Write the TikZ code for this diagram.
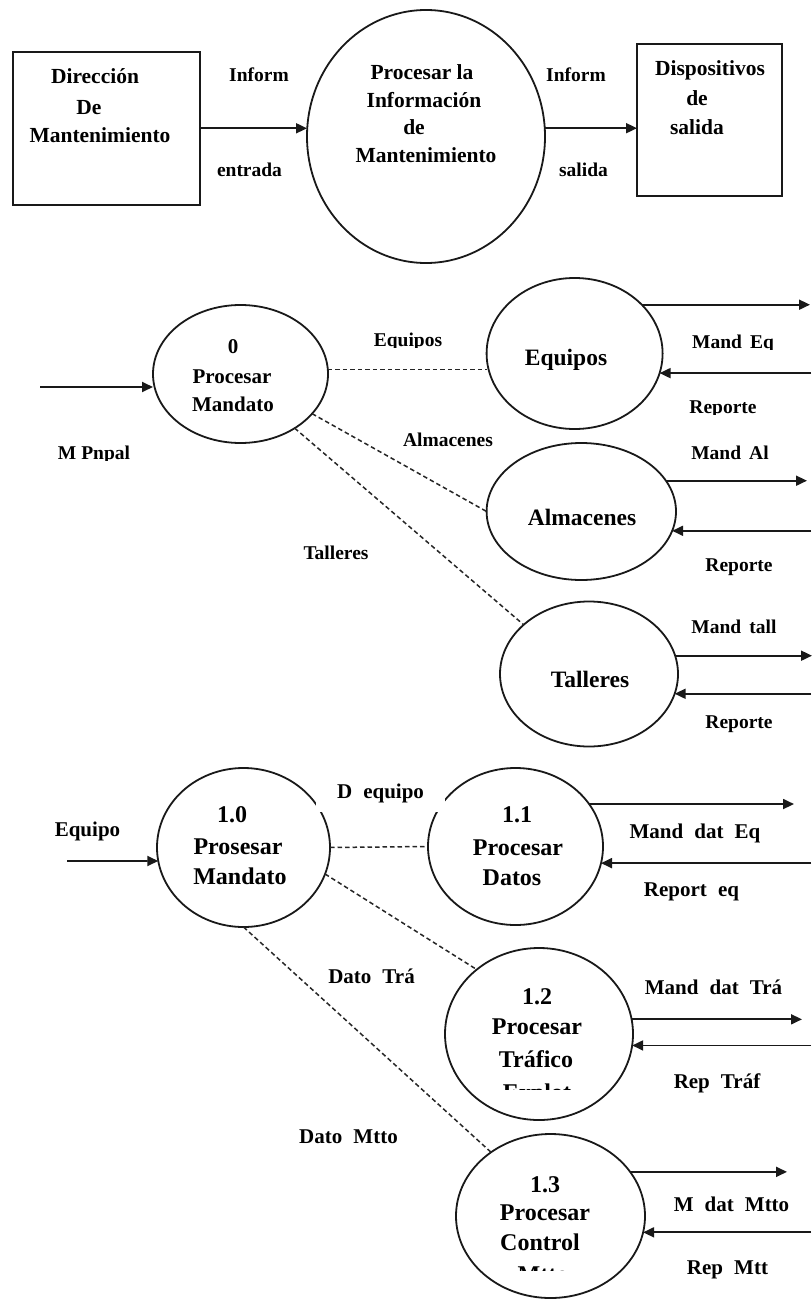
\documentclass[tikz,border=0pt]{standalone}
\usepackage{fontspec}
\setmainfont{Liberation Serif}
\usetikzlibrary{shapes.geometric,arrows.meta}
\begin{document}
\begin{tikzpicture}[x=1pt,y=-1pt,
  lw/.style={line width=1.8pt, draw=black!90},
  arr/.style={lw, -{Triangle[length=11pt,width=10pt]}},
  dsh/.style={line width=1.5pt, draw=black!85, dash pattern=on 4.5pt off 3pt},
  bub/.style={draw=black!90, ellipse, line width=1.8pt, inner sep=0pt, outer sep=0pt},
  box/.style={draw=black!90, rectangle, line width=2.2pt, inner sep=0pt, outer sep=0pt},
  la/.style={inner sep=0pt, text height=12.9pt, text depth=0pt, font=\fontsize{19.5}{23}\selectfont\bfseries},
  lb/.style={inner sep=0pt, text height=13.9pt, text depth=0pt, font=\fontsize{21}{25}\selectfont\bfseries},
  ta/.style={inner sep=0pt, text height=14.2pt, text depth=0pt, font=\fontsize{21.5}{25}\selectfont\bfseries},
  tb/.style={inner sep=0pt, text height=15.5pt, text depth=0pt, font=\fontsize{23.5}{28}\selectfont\bfseries},
  tc/.style={inner sep=0pt, text height=15.8pt, text depth=0pt, font=\fontsize{24}{28}\selectfont\bfseries},
]
\useasboundingbox (0,0) rectangle (811,1300);
\fill[white] (0,0) rectangle (811,1300);

% ---------------- top section ----------------
\node[box, minimum width=187.3pt, minimum height=153.3pt] (dir) at (106.3,128.3) {};
\node[ta] (dir1) at (95,76) {Dirección};
\node[ta] (dir2) at (89,107) {De};
\node[ta] (dir3) at (100,135) {Mantenimiento};

\node[bub, minimum width=238pt, minimum height=253pt] (pinfo) at (426,136.5) {};
\node[ta] (pi1) at (422,72) {Procesar la};
\node[ta] (pi2) at (424,100) {Información};
\node[ta] (pi3) at (414,127) {de};
\node[ta] (pi4) at (426,155) {Mantenimiento};

\node[box, minimum width=145pt, minimum height=152pt] (disp) at (709.5,120) {};
\node[ta] (di1) at (710,68) {Dispositivos};
\node[ta] (di2) at (697,98) {de};
\node[ta] (di3) at (697,127) {salida};

\draw[arr] (dir.east) -- (dir.east -| pinfo.west);
\draw[arr] (pinfo.4.1) -- (pinfo.4.1 -| disp.west);
\node[la] (lin1) at (259,75) {Inform};
\node[la] (lent) at (249.5,170) {entrada};
\node[la] (lin2) at (576,75) {Inform};
\node[la] (lsal) at (583.5,170) {salida};

% ---------------- middle section ----------------
\coordinate (E812) at (812,0);
\coordinate (E811) at (811,0);
\coordinate (E810) at (810,0);
\coordinate (E807) at (807,0);
\coordinate (E802) at (802,0);
\coordinate (E793) at (794,0);
\coordinate (E787) at (787,0);

\node[bub, minimum width=175pt, minimum height=138pt] (p0) at (240.5,374) {};
\node[lb] (p0a) at (233,347) {0};
\node[lb] (p0b) at (232,377) {Procesar};
\node[lb] (p0c) at (233,405) {Mandato};

\node[bub, minimum width=176pt, minimum height=151pt] (eq) at (574.6,353.5) {};
\node[tb] (eqt) at (566,358) {Equipos};
\node[bub, minimum width=189.4pt, minimum height=137pt] (alm) at (581.3,511.5) {};
\node[tb] (almt) at (582,518) {Almacenes};
\node[bub, minimum width=178pt, minimum height=145pt] (tal) at (589,674) {};
\node[tb] (talt) at (590,680) {Talleres};

\coordinate (in0) at (40,387);
\draw[arr] (in0) -- (in0 -| p0.west);
\begin{scope}
\clip (40,430) rectangle (150,460.5);
\node[la] (lppal) at (94,453) {M Pnpal};
\end{scope}

\draw[dsh] (p0.3.9) -- (p0.3.9 -| eq.west);
\draw[dsh] (p0.331.1) -- (alm.west);
\draw[dsh] (p0.315.7) -- (tal.143);
\begin{scope}
\clip (360,320) rectangle (460,347.5);
\node[la] (leq) at (408,340) {Equipos};
\end{scope}
\node[la] (lalm) at (448,440) {Almacenes};
\node[la] (ltal) at (336,553) {Talleres};

\draw[arr] (eq.36.7) -- (eq.36.7 -| E810);
\draw[arr] (eq.347.1 -| E811) -- (eq.347.1);
\begin{scope}
\clip (680,320) rectangle (790,349.5);
\node[la] (lmeq) at (733,342) {Mand\, Eq};
\end{scope}
\begin{scope}
\clip (680,385) rectangle (790,414.5);
\node[la] (lrep1) at (723,407) {Reporte};
\end{scope}

\draw[arr] (alm.20.5) -- (alm.20.5 -| E807);
\draw[arr] (alm.348.5 -| E811) -- (alm.348.5);
\node[la] (lmal) at (730,453) {Mand\, Al};
\node[la] (lrep2) at (739,565) {Reporte};

\draw[arr] (tal.12.5) -- (tal.12.5 -| E812);
\draw[arr] (tal.347.3 -| E811) -- (tal.347.3);
\node[la] (lmtal) at (734,627) {Mand\, tall};
\node[la] (lrep3) at (739,722) {Reporte};

% ---------------- bottom section ----------------
\node[bub, minimum width=173pt, minimum height=159pt] (p10) at (243.5,847.5) {};
\node[tc] (p10a) at (232,815) {1.0};
\node[tc] (p10b) at (238,847) {Prosesar};
\node[tc] (p10c) at (240,877) {Mandato};

\node[bub, minimum width=175pt, minimum height=157pt] (p11) at (515.5,846.5) {};
\node[tc] (p11a) at (517,815) {1.1};
\node[tc] (p11b) at (518,848) {Procesar};
\node[tc] (p11c) at (512,878) {Datos};

\node[bub, minimum width=188pt, minimum height=172pt] (p12) at (539,1034) {};
\node[tc] (p12a) at (537,997) {1.2};
\node[tc] (p12b) at (537,1027) {Procesar};
\node[tc] (p12c) at (536,1060) {Tráfico};
\begin{scope}
\clip (480,1070) rectangle (600,1089);
\node[tc] (p12d) at (537,1093) {Explot};
\end{scope}

\node[bub, minimum width=189pt, minimum height=164pt] (p13) at (550.5,1216) {};
\node[tc] (p13a) at (545,1185) {1.3};
\node[tc] (p13b) at (545,1213) {Procesar};
\node[tc] (p13c) at (540,1243) {Control};
\begin{scope}
\clip (490,1255) rectangle (600,1270.5);
\node[tc] (p13d) at (543,1275) {Mtto};
\end{scope}

\coordinate (in10) at (67,861);
\draw[arr] (in10) -- (p10.189);
\node[lb] (lequipo) at (87.5,830) {Equipo};

\draw[dsh] (p10.east) -- (p11.west);
\draw[dsh] (p10.342.6) -- (p12.134.2);
\draw[dsh] (p10.south) -- (p13.133.5);

\node[lb, fill=white, minimum width=129pt, minimum height=40pt] (ldeq) at (380.5,792) {D\; equipo\hspace{18pt}};
\node[lb] (ldtra) at (371.5,977) {Dato\; Trá};
\node[lb] (ldmtto) at (348.5,1137) {Dato\; Mtto};

\draw[arr] (p11.30.9) -- (p11.30.9 -| E793);
\draw[arr] (p11.349.8 -| E811) -- (p11.349.8);
\node[lb] (lmdeq) at (695,832) {Mand\; dat\; Eq};
\node[lb] (lrepeq) at (691.5,890) {Report\; eq};

\draw[arr] (p12.9.8) -- (p12.9.8 -| E802);
\draw[arr] (p12.353.3 -| E811) -- (p12.353.3);
\node[lb] (lmdtra) at (713.5,988) {Mand\; dat\; Trá};
\node[lb] (lreptra) at (717,1082) {Rep\; Tráf};

\draw[arr] (p13.29.7) -- (p13.29.7 -| E787);
\draw[arr] (p13.350.2 -| E811) -- (p13.350.2);
\node[lb] (lmdmtto) at (731.5,1205) {M\; dat\; Mtto};
\node[lb] (lrepmtt) at (727.5,1268) {Rep\; Mtt};
\end{tikzpicture}
\end{document}
